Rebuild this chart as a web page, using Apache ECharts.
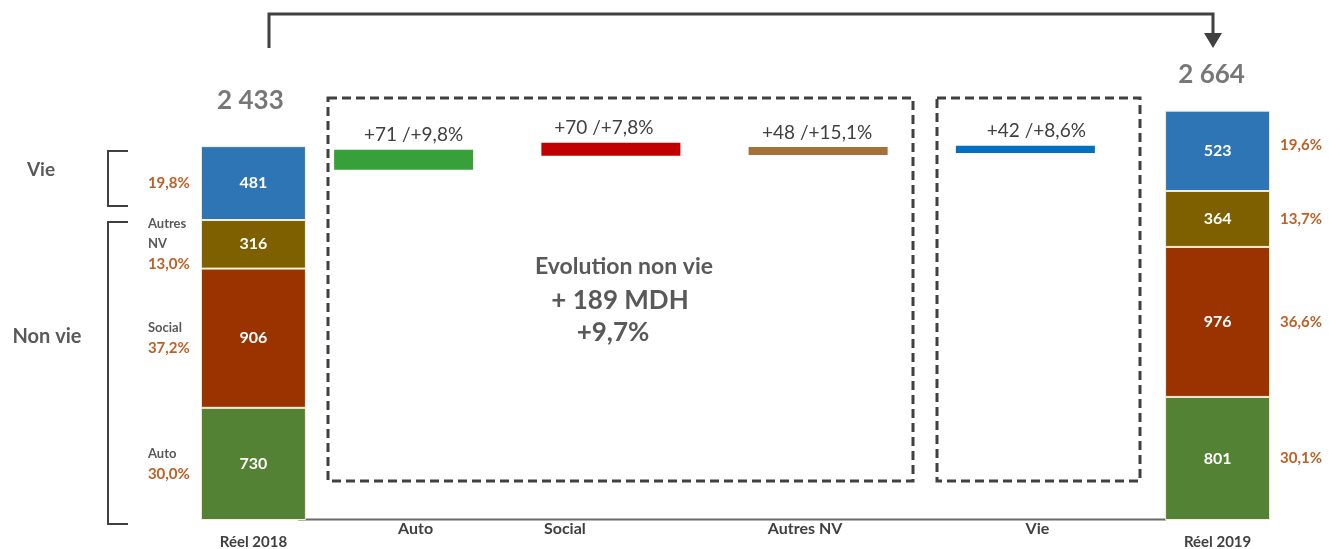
<!DOCTYPE html>
<html><head><meta charset="utf-8">
<script src="https://cdn.jsdelivr.net/npm/echarts@6/dist/echarts.min.js"></script>
<style>html,body{margin:0;padding:0;background:#fff}#c{width:1329px;height:549px}</style>
</head><body><div id="c"></div>
<script>
// ---- data ----
const segments = ['Auto', 'Social', 'Autres NV', 'Vie'];           // bottom -> top
const reel2018 = [730, 906, 316, 481];
const reel2019 = [801, 976, 364, 523];
const totalCats = ['Réel 2018', '', '', '', '', 'Réel 2019'];
const sideNames2018 = ['Auto', 'Social', 'Autres\nNV', ''];
const incCats = ['Auto', 'Social', 'Autres NV', 'Vie'];
const incValues = [71, 70, 48, 42];
const incPct = ['9,8', '7,8', '15,1', '8,6'];
const incFloor = [2279, 2370, 2376, 2389];   // floating level
const incHeight = [130, 85, 52, 46];         // drawn thickness
const evolTitle = 'Evolution non vie';
const evolAmount = '+ 189 MDH';
const evolPct = '+9,7%';

// ---- styles ----
const F = 'Lato, "Liberation Sans", sans-serif';
const GRAY = '#595959';
const PCT = '#BF5F24';
const segColors = ['#548235', '#9A3300', '#7F6000', '#2E75B6'];
const incColors = ['#37A038', '#C00000', '#A47239', '#0070C0'];
const incLabelShift = [10, -7, -1, 11];
const catLabelShift = [12, -46, -13, 12];

const fmtPct = (v, t) => (v / t * 100).toFixed(1).replace('.', ',') + '%';
const sum = a => a.reduce((s, v) => s + v, 0);
const tot2018 = sum(reel2018), tot2019 = sum(reel2019);
const fmtThousands = v => String(v).replace(/\B(?=(\d{3})+(?!\d))/g, ' ');

const series = [];
segments.forEach((name, i) => {
  series.push({
    type: 'bar', name, stack: 'tot', xAxisIndex: 0, yAxisIndex: 0, barWidth: 105,
    itemStyle: { color: segColors[i], borderColor: '#f4eed6', borderWidth: 1 },
    label: { show: true, position: 'inside', color: '#fff', fontFamily: F, fontWeight: 'bold', fontSize: 16 },
    data: totalCats.map((c, j) => j === 0 ? reel2018[i] : j === totalCats.length - 1 ? reel2019[i] : '-')
  });
});
segments.forEach((name, i) => {
  const leftTxt = (sideNames2018[i] ? sideNames2018[i].split('\n').map(s => '{n|' + s + '}').join('\n') + '\n' : '') +
    '{p|' + fmtPct(reel2018[i], tot2018) + '}';
  series.push({
    type: 'bar', name: name + '_lbl', stack: 'lbl', xAxisIndex: 2, yAxisIndex: 0, barWidth: 105,
    itemStyle: { color: 'rgba(0,0,0,0)' }, silent: true,
    data: totalCats.map((c, j) => {
      if (j === 0) return {
        value: reel2018[i],
        label: {
          show: true, position: [-53, '50%'], align: 'left', verticalAlign: 'middle',
          formatter: leftTxt,
          rich: {
            n: { fontFamily: F, fontSize: 13, fontWeight: 'bold', color: GRAY, lineHeight: 20 },
            p: { fontFamily: F, fontSize: 15, fontWeight: 'bold', color: PCT, lineHeight: 21 }
          }
        }
      };
      if (j === totalCats.length - 1) return {
        value: reel2019[i],
        label: {
          show: true, position: [115, '50%'], align: 'left', verticalAlign: 'middle',
          offset: i === 3 ? [0, -6] : [0, 0],
          formatter: fmtPct(reel2019[i], tot2019),
          fontFamily: F, fontSize: 15, fontWeight: 'bold', color: PCT
        }
      };
      return '-';
    })
  });
});
series.push({
  type: 'scatter', xAxisIndex: 0, yAxisIndex: 0, symbolSize: 0, silent: true,
  label: { show: true, position: 'top', fontFamily: F, fontWeight: 'bold', fontSize: 26, color: '#555555',
    formatter: p => fmtThousands(p.value) },
  data: totalCats.map((c, j) => j === 0 ? { value: tot2018, label: { distance: 33, offset: [-3, 0] } }
    : j === totalCats.length - 1 ? { value: tot2019, label: { distance: 23, offset: [-6, 0] } } : '-')
});
series.push({
  type: 'bar', stack: 'inc', xAxisIndex: 1, yAxisIndex: 1, barWidth: 139, silent: true,
  itemStyle: { color: 'rgba(0,0,0,0)' }, data: incFloor
});
series.push({
  type: 'bar', stack: 'inc', xAxisIndex: 1, yAxisIndex: 1, barWidth: 139,
  data: incHeight.map((h, i) => ({
    value: h, itemStyle: { color: incColors[i] },
    label: { offset: [incLabelShift[i], 0] }
  })),
  label: {
    show: true, position: 'top', distance: 5, fontFamily: F, fontSize: 19, color: '#404040',
    formatter: p => '+' + incValues[p.dataIndex] + ' /+' + incPct[p.dataIndex] + '%'
  }
});

const catRich = {};
catLabelShift.forEach((s, i) => {
  catRich['c' + i] = { fontFamily: F, fontWeight: 'bold', fontSize: 16, color: '#404040',
    padding: s > 0 ? [0, 0, 0, 2 * s] : [0, -2 * s, 0, 0] };
});

const dash = { fill: 'none', stroke: '#404040', lineWidth: 3, lineDash: [9, 5] };
const line = { fill: 'none', stroke: '#404040', lineWidth: 2 };

const option = {
  animation: false,
  grid: [
    { left: 157, right: 15, top: 59, bottom: 29, outerBoundsMode: 'none', containLabel: false },
    { left: 300, right: 200, top: 59, bottom: 29, outerBoundsMode: 'none', containLabel: false }
  ],
  xAxis: [
    { type: 'category', gridIndex: 0, data: totalCats, axisLine: { show: false }, axisTick: { show: false },
      axisLabel: { margin: 15, fontFamily: F, fontWeight: 'bold', fontSize: 15, color: '#404040', interval: 0 } },
    { type: 'category', gridIndex: 1, data: incCats, axisLine: { show: false }, axisTick: { show: false },
      axisLabel: { margin: 1, interval: 0, rich: catRich,
        formatter: (v, i) => '{c' + i + '|' + v + '}' } },
    { type: 'category', gridIndex: 0, data: totalCats, show: false }
  ],
  yAxis: [
    { type: 'value', gridIndex: 0, min: 0, max: 3000, show: false, splitLine: { show: false } },
    { type: 'value', gridIndex: 1, min: 0, max: 3000, show: false, splitLine: { show: false } }
  ],
  series,
  graphic: [
    { type: 'line', shape: { x1: 298, y1: 519.5, x2: 1166, y2: 519.5 }, style: { stroke: '#6b6b6b', lineWidth: 2 }, z: 0 },
    { type: 'rect', shape: { x: 328, y: 98, width: 585, height: 383 }, style: dash },
    { type: 'rect', shape: { x: 937, y: 98, width: 203, height: 383 }, style: dash },
    { type: 'polyline', shape: { points: [[269, 48], [269, 14], [1213, 14], [1213, 35]] }, style: { fill: 'none', stroke: '#404040', lineWidth: 3 } },
    { type: 'polygon', shape: { points: [[1204, 33], [1222, 33], [1213, 48]] }, style: { fill: '#404040' } },
    { type: 'polyline', shape: { points: [[128, 151], [108, 151], [108, 206], [128, 206]] }, style: line },
    { type: 'polyline', shape: { points: [[128, 222], [108, 222], [108, 524], [128, 524]] }, style: line },
    { type: 'text', x: 41, y: 170, style: { text: 'Vie', fill: GRAY, font: 'bold 19px ' + F, textAlign: 'center', textVerticalAlign: 'middle' } },
    { type: 'text', x: 47, y: 337, style: { text: 'Non vie', fill: GRAY, font: 'bold 20px ' + F, textAlign: 'center', textVerticalAlign: 'middle' } },
    { type: 'text', x: 624, y: 267, style: { text: evolTitle, fill: GRAY, font: 'bold 23px ' + F, textAlign: 'center', textVerticalAlign: 'middle' } },
    { type: 'text', x: 620, y: 301, style: { text: evolAmount, fill: GRAY, font: 'bold 26px ' + F, textAlign: 'center', textVerticalAlign: 'middle' } },
    { type: 'text', x: 613, y: 333, style: { text: evolPct, fill: GRAY, font: 'bold 26px ' + F, textAlign: 'center', textVerticalAlign: 'middle' } }
  ]
};
echarts.init(document.getElementById('c')).setOption(option);
</script></body></html>
